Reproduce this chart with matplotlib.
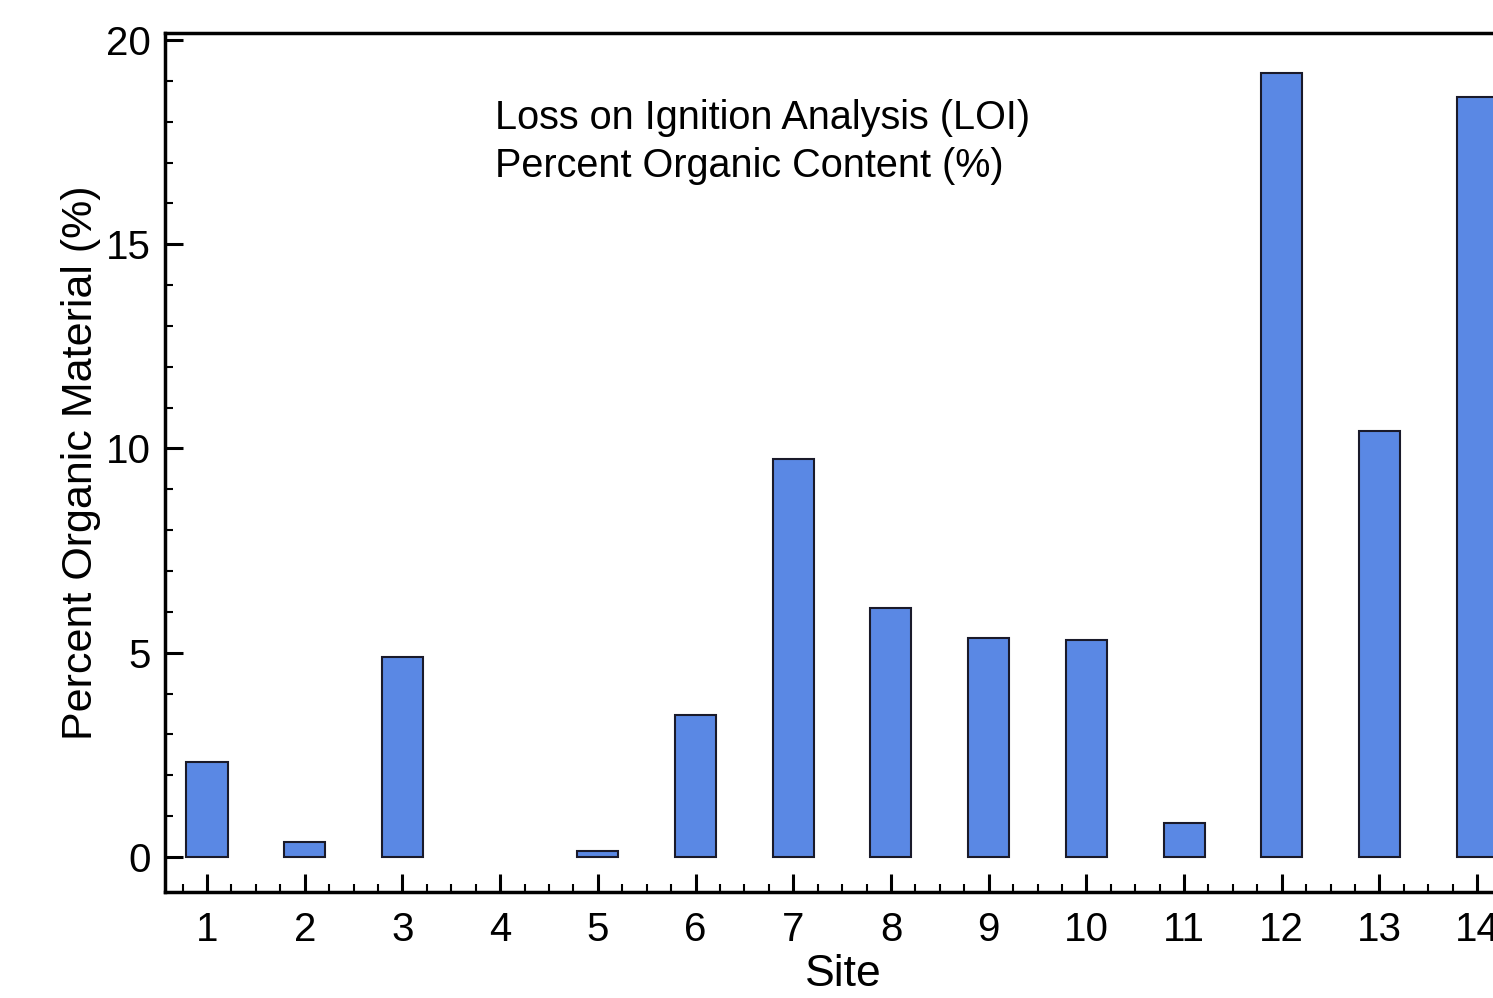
import matplotlib.pyplot as plt
from matplotlib.ticker import MultipleLocator

# site numbers and loss-on-ignition values
sites = [1, 2, 3, 4, 5, 6, 7, 8, 9, 10, 11, 12, 13, 14]
organic_pct = [2.33, 0.37, 4.90, 0.0, 0.15, 3.48, 9.74, 6.10, 5.36, 5.31, 0.83, 19.19, 10.43, 18.60]

plt.rcParams['font.family'] = ['Liberation Sans', 'DejaVu Sans']

fig = plt.figure(figsize=(14.93, 9.98), dpi=100)
# the right side of the axes runs past the figure edge, as in the original
ax = fig.add_axes([0.1105, 0.1062, 0.9725, 0.8607])

# no outline for empty bars (site 4 shows nothing)
edge_w = [0 if v == 0 else 1.5 for v in organic_pct]
ax.bar(sites, organic_pct, width=0.42, color='#5a88e4', edgecolor='#1a1a2a', linewidth=edge_w)

ax.set_xlim(0.57, 15.43)
ax.set_ylim(-0.857, 20.17)

ax.xaxis.set_major_locator(MultipleLocator(1))
ax.xaxis.set_minor_locator(MultipleLocator(0.25))
ax.yaxis.set_major_locator(MultipleLocator(5))
ax.yaxis.set_minor_locator(MultipleLocator(1))

ax.tick_params(which='both', direction='in', top=False, right=False, width=2.2)
ax.tick_params(which='major', length=13, labelsize=29)
ax.tick_params(axis='x', which='major', pad=14)
ax.tick_params(axis='y', which='major', pad=10)
ax.tick_params(which='minor', length=6, width=1.5)

for side in ['left', 'bottom', 'top', 'right']:
    ax.spines[side].set_linewidth(2.5)

ax.set_xlabel('Site', fontsize=32)
ax.xaxis.set_label_coords(0.467, -0.072)
ax.set_ylabel('Percent Organic Material (%)', fontsize=31, labelpad=4)

ax.text(495 / 1493, 1 - 142 / 998, 'Loss on Ignition Analysis (LOI)\nPercent Organic Content (%)',
        transform=fig.transFigure, fontsize=28.5, ha='left', va='center', linespacing=1.32)

fig.savefig('out.png', dpi=100)
